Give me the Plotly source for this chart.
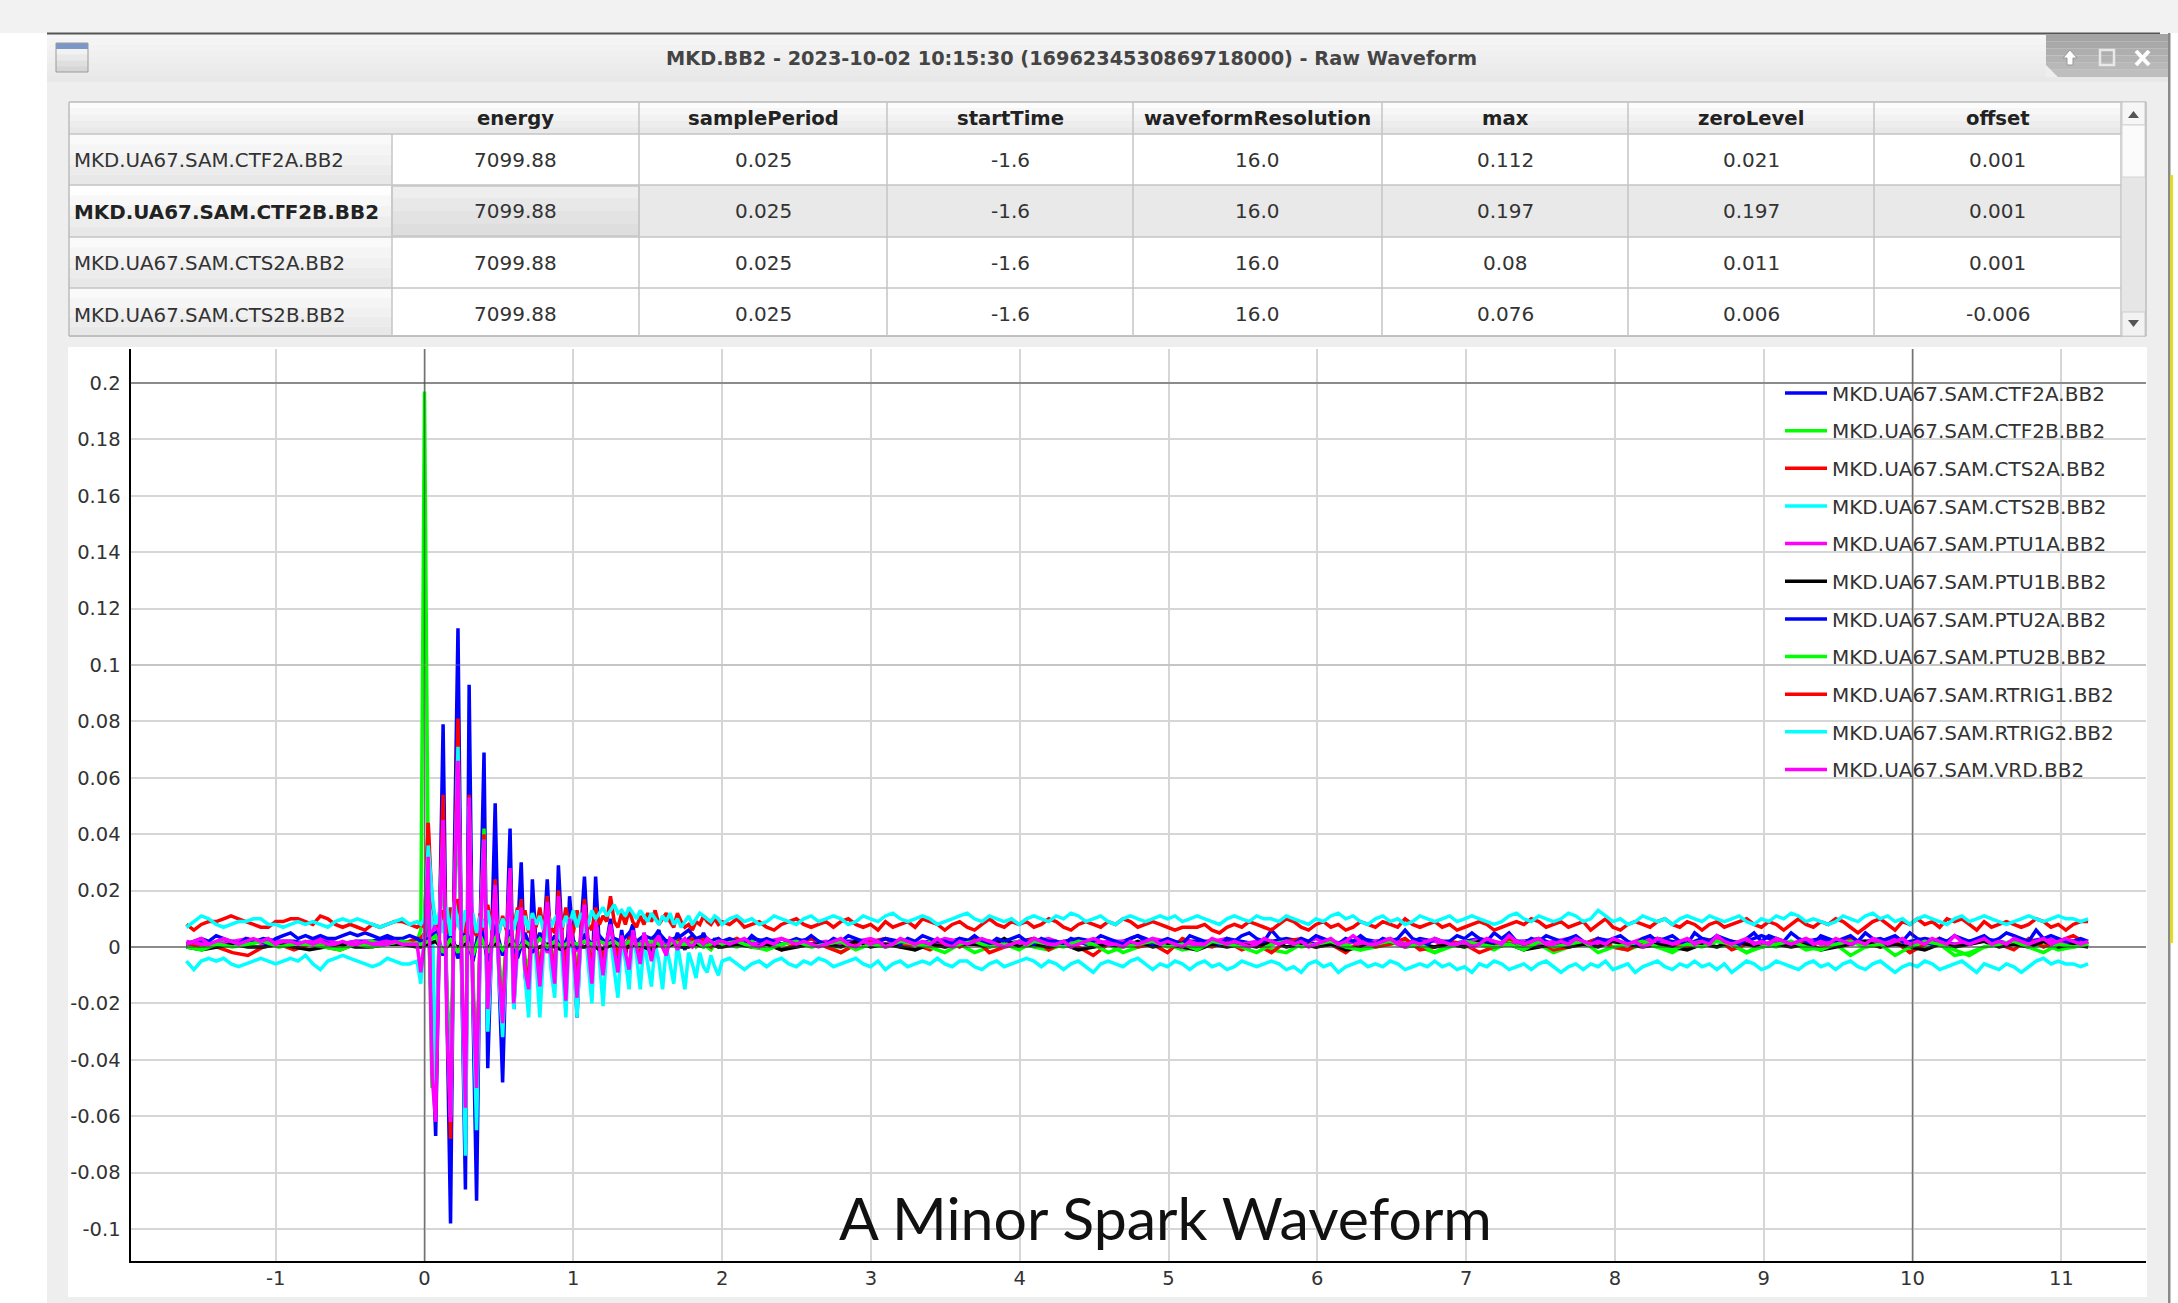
import numpy as np
import plotly.graph_objects as go

W, H = 2178, 1303
TITLE = "MKD.BB2 - 2023-10-02 10:15:30 (1696234530869718000) - Raw Waveform"
CAPTION = "A Minor Spark Waveform"
COLUMNS = ["energy", "samplePeriod", "startTime", "waveformResolution", "max", "zeroLevel", "offset"]
ROW_NAMES = ["MKD.UA67.SAM.CTF2A.BB2", "MKD.UA67.SAM.CTF2B.BB2", "MKD.UA67.SAM.CTS2A.BB2", "MKD.UA67.SAM.CTS2B.BB2"]
ROW_VALUES = [
    ["7099.88", "0.025", "-1.6", "16.0", "0.112", "0.021", "0.001"],
    ["7099.88", "0.025", "-1.6", "16.0", "0.197", "0.197", "0.001"],
    ["7099.88", "0.025", "-1.6", "16.0", "0.08", "0.011", "0.001"],
    ["7099.88", "0.025", "-1.6", "16.0", "0.076", "0.006", "-0.006"],
]
X_TICKS = [-1, 0, 1, 2, 3, 4, 5, 6, 7, 8, 9, 10, 11]
Y_TICKS = [0.2, 0.18, 0.16, 0.14, 0.12, 0.1, 0.08, 0.06, 0.04, 0.02, 0, -0.02, -0.04, -0.06, -0.08, -0.1]
Y_LABELS = ["0.2", "0.18", "0.16", "0.14", "0.12", "0.1", "0.08", "0.06", "0.04", "0.02", "0", "-0.02", "-0.04", "-0.06", "-0.08", "-0.1"]

# Values in thousandths of the y unit; each series: before trigger, burst, after burst
ctf2a_pre = [1, 2, 1, 2, 1, 3, 2, 2, 1, 2, 1, 2, 2, 3, 2, 1]
ctf2a_burst = [1, 2, 14, -30, -67, 5, 79, -20, -98, 30, 113, -10, -86, 93, -20, -90, 10, 69, -43, 0, 51, -10, -48, 0, 42, -22, 5, 30, -10, -19, 24, 0, -12, 2, 24, -2, -14, 29, 3, -13, 18, 2, -25, 5, 25, 0, -12, 25, 0, -8, 2, 10, 0, -5, 6, -3, 4, 8, -2, -4, 5, 0, -3, 4, 6, 0, -2, 3, 1, 5, 2, -1, 3, 4, 1, 2, 5, 2, 0, 3, 1]
ctf2a_post = [2, 1, 3, 2, 1, 2, 3, 1, 2, 2, 1, 3, 2, 1, 2, 1, 3, 2, 2, 1, 2, 3, 1, 2, 3, 2, 1, 2, 4, 2, 1, 2, 2, 1, 3, 2, 1, 2, 3, 2, 1, 2, 1, 3, 2, 2, 1, 3, 2, 1, 2, 3, 1, 2, 2, 3, 1, 2, 1, 3, 2, 1, 2, 3, 2, 1, 3, 2, 1, 2, 4, 2, 1, 2, 3, 1, 2, 2, 3, 1, 2, 3, 2, 1, 2, 3, 2, 1, 2, 3, 2, 2, 1]

ctf2b_pre = [1, 0, 2, 1, 1, 2, 0, 1, 2, 1, 0, 1, 2, 1, 1, 2]
ctf2b_burst = [6, 197, 25, -50, -40, 5, 30, -15, -40, 15, 50, -10, -45, 35, -10, -40, 5, 42, -20, 1, 10, -5, -15, 2, 25, -8, 2, 10, -4, -7, 8, 1, -5, 2, 8, 0, -5, 10, 1, -4, 5, 1, -8, 2, 8, 0, -4, 5, 0, -3, 1, 4, 0, -2, 2, -1, 2, 3, 0, -1, 2, 1, -1, 2, 2, 0, -1, 2, 1, 2, 1, 0, 1, 2, 0, 1, 2, 0, -1, 1, 0]
ctf2b_post = [1, 0, 2, -1, 1, 2, 0, 1, -2, 1, 2, 0, 1, -1, 2, 0, 1, -2, 0, 1, 2, 0, -1, 1, 2, 0, 1, -2, 0, 2, 1, -1, 0, 1, 2, 0, 1, -1, -2, 1, 0, 2, 1, -1, 0, 1, 2, 0, -2, 1, 0, 1, -1, 2, 0, 1, -2, 0, 1, 2, 0, -1, 1, 0, -2, 1, 2, 0, 1, -2, 1, 0, 2, -1, 0, 1, -3, 0, 1, 2, -1, 0, 1, -3, -2, 0, 1, 2, 0, 1, -1, 0, 1]

cts2a_pre = [0, 1, 0, -2, -3, 0, 1, -1, 1, 0, -1, 1, 0, 2, 1, 3]
cts2a_burst = [3, 5, 44, -25, -58, 10, 54, -20, -68, 20, 81, -8, -60, 54, -15, -55, 8, 40, -27, 2, 24, -8, -25, 2, 27, -15, 4, 17, -6, -12, 12, 1, -9, 3, 18, -1, -9, 20, 3, -8, 10, 2, -14, 4, 17, 1, -8, 10, 1, -5, 2, 7, 1, -3, 4, -2, 3, 5, -1, -2, 4, 1, -2, 3, 4, 1, -1, 3, 2, 3, 1, 0, 2, 3, 1, 2, 3, 1, 0, 2, 1]
cts2a_post = [1, 3, 0, 2, -1, 1, 3, 0, -2, 1, 2, 3, 0, 1, -1, 2, 0, 3, -2, 0, 1, 3, -1, 2, 0, -3, 1, 2, 0, 1, -2, 3, 1, 0, 2, -1, 1, -2, 2, 3, 0, 1, -2, 2, 0, 1, 3, -1, 0, 2, 1, -2, 0, 3, 1, 2, -1, 0, 1, 3, 0, -1, 2, 3, 1, 0, 2, 3, -1, 1, 0, 3, 1, 2, -1, 2, 3, 1, 0, 2, -2, 1, 3, 0, 2, 3, 1, -1, 3, 0, 2, 4, 1]

cts2b_pre = [-5, -8, -5, -4, -5, -4, -6, -7, -6, -5, -4, -5, -6, -5, -4, -5, -3, -6, -8, -5, -4, -3, -4, -5, -6, -7, -6, -4, -5, -6, -6, -5]
cts2b_burst = [-13, 5, 36, 19, -50, 10, 40, -20, -60, 10, 71, -5, -74, 50, -15, -65, 5, 38, -30, -2, 20, -10, -32, -3, 22, -22, -2, 12, -10, -25, 8, -5, -25, -2, 12, -8, -18, 14, -5, -25, 8, -3, -25, 2, 10, -6, -20, 10, -4, -21, 0, 4, -8, -18, 3, -5, -15, 5, -3, -15, 2, -6, -14, 1, -5, -15, 0, -6, -13, 1, -7, -15, -2, -6, -11, -2, -7, -9, -3, -7, -10]
cts2b_post = [-5, -4, -6, -8, -6, -5, -7, -5, -4, -6, -7, -5, -6, -4, -5, -7, -6, -5, -4, -6,
              -7, -5, -8, -6, -5, -7, -6, -5, -6, -4, -6, -7, -5, -5, -7, -8, -6, -5, -7, -6,
              -5, -4, -5, -7, -5, -6, -8, -6, -5, -7, -9, -6, -5, -6, -7, -5, -4, -6, -8, -6,
              -7, -5, -6, -8, -6, -5, -7, -6, -8, -7, -5, -6, -7, -6, -5, -6, -8, -7, -9, -6,
              -5, -7, -6, -9, -7, -6, -5, -7, -6, -7, -5, -6, -8, -7, -6, -7, -5, -7, -6, -8,
              -7, -9, -6, -7, -5, -6, -8, -7, -6, -8, -6, -5, -7, -9, -7, -6, -8, -6, -7, -5,
              -8, -7, -6, -9, -7, -6, -5, -7, -8, -6, -7, -5, -7, -6, -8, -6, -9, -7, -5, -6,
              -8, -7, -5, -6, -7, -8, -6, -5, -7, -6, -8, -6, -5, -7, -8, -6, -5, -7, -9, -7,
              -6, -7, -5, -6, -8, -7, -6, -5, -7, -9, -6, -7, -8, -6, -7, -9, -7, -5, -4, -6, -5, -6, -6, -7, -6]

ptu1a_pre = [2, 1, 1, 2, 3, 1, 2, 1, 2, 3, 1, 2, 1, 2, 1, 1]
ptu1a_burst = [1, 2, 8, -3, 6, -4, 7, -5, 8, -4, 6, -3, 5, -3, 4, -2, 4, -2, 3, -1, 3, -1, 2, 0, 3, 0, 2, 1, 2, 1, 2, 1, 2, 1, 2, 1, 2, 1, 1, 2, 1]
ptu1a_post = [1, 2, 1, 2, 3, 1, 1, 2, 1, 2, 3, 1, 2, 1, 1, 3, 2, 1, 2, 1, 1, 2, 3, 1, 2, 1, 2, 2, 1, 3, 2, 1, 1, 2, 3, 1, 2, 1, 2, 1, 3, 1, 2, 1, 2, 3, 1, 2, 2, 1, 1, 3, 2, 1, 2, 1, 2, 3, 1, 1, 2, 1, 3, 2, 1, 2, 1, 3, 1, 2, 1, 2, 1, 3, 1, 2, 2, 1, 2, 3, 1, 2, 1, 1, 2, 3, 1, 2, 1, 3, 2, 1, 2]

ptu1b_pre = [0, -1, 0, 1, 0, 0, 1, 0, -1, 0, 1, 0, 0, 1, 1, 0]
ptu1b_burst = [0, 1, 2, -1, 1, 0, 1, -1, 2, 0, 1, -1, 1, 0, 1, -1, 0, 1, 0, -1, 1, 0, 0, 1, -1, 0, 1, 0, 0, 1, 0, -1, 1, 0, 1, 0, 0, 1, 0, 1, 0]
ptu1b_post = [0, 1, 0, 1, -1, 0, 1, 1, 0, 2, 0, 1, 0, -1, 1, 0, 1, 1, 0, 3, 0, 1, 0, 1, -1, 0, 1, 0, 2, 0, 1, 0, -1, 1, 0, 1, 0, 2, 0, 1, 0, 1, -1, 0, 1, 2, 0, 1, 0, 1, 0, 2, 0, 1, -1, 0, 1, 0, 1, 0, 2, 1, 0, 1, 0, -1, 1, 0, 2, 1, 0, 1, 0, 1, -1, 0, 1, 2, 0, 1, 0, -1, 1, 0, 1, 2, 0, 1, 0, 2, 0, 1, 0]

ptu2a_pre = [1, 2, 3, 2, 4, 3, 2, 1, 3, 2, 2, 1, 3, 4, 5, 3, 4, 3, 4, 3, 3, 4, 5, 4, 5, 4, 3, 4, 3, 3, 4, 3]
ptu2a_burst = [2, 3, 5, -3, 6, -4, 8, -5, 9, -5, 8, -3, 6, -4, 5, -2, 5, -1, 4, -1, 5, 0, 4, 1, 4, 1, 3, 2, 5, 2, 4, 3, 5, 2, 3, 4, 6, 3, 4, 2, 3]
ptu2a_post = [2, 3, 2, 1, 4, 2, 3, 2, 1, 2, 3, 2, 4, 2, 1, 3, 2, 4, 3, 2, 1, 2, 3, 2, 1, 3, 2, 4, 3, 2,
              2, 1, 3, 2, 4, 2, 1, 3, 2, 3, 4, 2, 1, 3, 2, 2, 1, 3, 2, 1, 2, 4, 3, 2, 1, 3, 4, 2, 1, 2,
              3, 2, 1, 4, 3, 2, 2, 1, 3, 2, 4, 5, 3, 2, 6, 3, 2, 1, 3, 2, 4, 3, 2, 1, 3, 2, 4, 2, 1, 3,
              2, 3, 6, 3, 2, 1, 3, 2, 2, 4, 3, 5, 3, 2, 5, 3, 5, 2, 1, 3, 2, 4, 3, 2, 3, 4, 2, 1, 3, 2,
              3, 4, 2, 1, 3, 4, 2, 3, 4, 2, 1, 5, 3, 2, 4, 3, 2, 1, 3, 5, 2, 4, 3, 2, 5, 3, 2, 1, 4, 3,
              2, 3, 4, 2, 5, 3, 2, 3, 4, 2, 5, 3, 2, 1, 3, 2, 4, 3, 2, 3, 4, 2, 3, 5, 4, 3, 2, 6, 3, 4, 3, 2, 2, 3, 2]

ptu2b_pre = [0, -1, 1, 0, 1, 2, 0, 1, 1, 0, -1, 1, 0, 1, 2, 1]
ptu2b_burst = [1, 2, 4, -2, 3, -2, 4, -3, 4, -2, 3, -1, 3, -1, 2, 0, 3, 0, 2, 0, 2, 1, 2, 1, 2, 1, 2, 0, 2, 1, 1, 2, 1, 0, 2, 1, 1, 2, 0, 1, 2]
ptu2b_post = [1, 2, 0, -1, 1, 2, 0, 1, 2, -1, 1, 0, 2, 1, 0, -2, 1, 2, 0, 1, -1, 2, 1, 0, 2, 1, -2, 0, 1, 2, 0, 1, -1, 2, 1, 0, -2, 1, 2, 0, 1, 2, 0, -1, 1, 2, 0, 1, -2, 0, 2, 1, 0, 1, -1, 2, 0, 1, 2, -2, 0, 1, 2, 0, -1, 1, 0, 2, 1, -2, 0, 1, 2, 0, -1, 1, 2, 0, 1, -3, 0, 2, 1, -1, -3, 0, 1, 2, 0, -2, 1, 0, 1]

rtrig1_pre = [8, 6, 8, 9, 9, 10, 11, 10, 9, 8, 7, 7, 9, 9, 10, 10, 9, 8, 11, 10, 8, 7, 8, 7, 6, 8, 7, 8, 9, 9, 8, 7]
rtrig1_burst = [8, 7, 44, 16, 9, 7, 13, 5, 14, 6, 17, 8, 5, 16, 6, 4, 12, 6, 15, 8, 13, 5, 11, 6, 15, 7, 14, 6, 13, 5, 10, 7, 14, 6, 15, 7, 5, 12, 6, 14, 8, 5, 13, 7, 15, 8, 6, 14, 8, 11, 9, 18, 9, 7, 12, 8, 13, 9, 7, 11, 8, 12, 9, 13, 8, 10, 12, 9, 7, 12, 9, 7, 8, 6, 9, 8, 11, 9, 8, 10, 8]
rtrig1_post = [9, 8, 10, 7, 8, 9, 7, 6, 8, 9, 10, 8, 7, 8, 9, 7, 9, 10, 8, 7,
               8, 6, 9, 7, 8, 9, 7, 10, 9, 8, 6, 8, 9, 7, 6, 8, 10, 8, 7, 9,
               8, 9, 7, 8, 10, 9, 7, 6, 8, 9, 8, 7, 9, 8, 10, 9, 7, 8, 9, 8,
               7, 6, 7, 7, 7, 8, 6, 5, 7, 8, 7, 9, 8, 7, 6, 8, 10, 9, 7, 6,
               8, 9, 7, 8, 6, 7, 9, 8, 7, 9, 8, 7, 10, 8, 7, 8, 9, 7, 8, 6,
               7, 8, 9, 8, 6, 7, 8, 9, 8, 10, 9, 7, 8, 9, 7, 8, 9, 6, 8, 10,
               7, 6, 8, 9, 8, 7, 9, 10, 8, 7, 9, 8, 6, 8, 9, 7, 8, 9, 10, 8,
               7, 9, 8, 6, 8, 10, 8, 7, 9, 8, 10, 9, 7, 5, 7, 9, 10, 8, 6, 9,
               8, 10, 8, 9, 7, 10, 9, 10, 8, 6, 9, 7, 8, 9, 8, 7, 8, 10, 9, 7, 8, 6, 8, 9, 9]

rtrig2_pre = [7, 9, 11, 10, 8, 7, 8, 9, 9, 10, 10, 8, 8, 7, 8, 9, 8, 9, 8, 7, 9, 10, 9, 10, 9, 8, 7, 8, 9, 10, 8, 9]
rtrig2_burst = [8, 10, 36, 19, 8, 12, 5, 14, 4, 16, 8, 5, 13, 6, 12, 5, 11, 7, 13, 6, 12, 5, 10, 7, 12, 6, 13, 5, 11, 6, 12, 8, 11, 6, 13, 7, 10, 12, 7, 11, 8, 13, 7, 12, 9, 8, 13, 10, 12, 14, 11, 13, 15, 12, 13, 11, 14, 12, 10, 13, 11, 9, 12, 10, 8, 11, 9, 12, 8, 10, 7, 9, 11, 8, 10, 12, 11, 10, 9, 11, 10]
rtrig2_post = [8, 10, 11, 9, 10, 8, 9, 11, 10, 9, 8, 10, 11, 9, 10, 11, 10, 8, 9, 11,
               10, 9, 11, 12, 10, 9, 10, 11, 10, 8, 9, 10, 11, 12, 10, 9, 11, 10, 9, 10,
               8, 10, 11, 10, 9, 11, 10, 12, 11, 9, 10, 11, 9, 8, 10, 11, 10, 9, 10, 11,
               10, 11, 9, 10, 11, 10, 9, 8, 10, 11, 10, 9, 11, 10, 10, 9, 11, 10, 9, 8,
               10, 9, 11, 12, 10, 11, 9, 8, 10, 11, 9, 10, 8, 9, 11, 10, 9, 10, 11, 9,
               10, 11, 10, 9, 8, 9, 11, 12, 10, 9, 11, 10, 9, 10, 12, 11, 9, 10, 13, 11,
               9, 10, 8, 9, 11, 10, 9, 10, 8, 10, 11, 10, 9, 11, 10, 9, 10, 11, 9, 8,
               10, 9, 11, 10, 12, 11, 9, 10, 9, 8, 9, 11, 10, 9, 11, 12, 10, 11, 9, 10,
               8, 10, 11, 10, 9, 8, 10, 11, 9, 10, 11, 10, 9, 8, 9, 10, 11, 10, 9, 10, 11, 10, 10, 9, 10]

vrd_pre = [1, 2, 3, 1, 2, 3, 2, 1, 2, 3, 2, 3, 1, 2, 2, 1, 2, 1, 2, 1, 1, 2, 1, 1, 2, 1, 1, 1, 2, 1, 1, 1]
vrd_burst = [-9, 2, 32, -45, -62, 5, 45, -25, -62, 15, 66, -5, -57, 53, -15, -50, 5, 38, -22, 0, 22, -8, -27, 0, 28, -20, 2, 14, -8, -15, 10, 0, -14, 2, 16, -2, -13, 18, 2, -19, 10, 0, -18, 3, 15, 0, -13, 9, 0, -10, 2, 8, -1, -9, 4, -2, -8, 6, 0, -6, 5, 1, -5, 2, 4, 0, -3, 3, 2, -1, 2, 3, 1, 0, 2, 2, 1, 3, 2, 1, 2]
vrd_post = [2, 1, 2, 3, 1, 0, 2, 1, 3, 2, 1, 2, 1, 0, 1, 2, 3, 1, 0, 2,
            1, 2, 0, 1, 3, 2, 1, 2, 1, 3, 1, 0, 2, 1, 2, 3, 2, 1, 0, 1,
            2, 1, 3, 2, 1, 1, 2, 0, 1, 2, 3, 2, 1, 1, 0, 2, 1, 2, 3, 1,
            2, 1, 0, 2, 1, 1, 3, 2, 1, 2, 1, 0, 1, 3, 2, 1, 2, 1, 2, 0,
            1, 2, 3, 1, 2, 4, 2, 1, 1, 2, 3, 1, 0, 2, 1, 2, 3, 2, 1, 1,
            2, 0, 1, 3, 2, 1, 4, 2, 1, 2, 3, 1, 1, 2, 1, 3, 2, 1, 2, 1,
            3, 2, 1, 2, 0, 1, 3, 2, 1, 2, 3, 1, 2, 1, 4, 2, 1, 2, 3, 1,
            2, 1, 3, 2, 1, 2, 3, 1, 2, 1, 3, 2, 1, 2, 1, 3, 2, 1, 2, 3,
            1, 2, 1, 3, 2, 1, 4, 2, 1, 2, 3, 1, 2, 1, 3, 2, 1, 2, 3, 1, 2, 3, 2, 1, 2]

SERIES = [
    ("MKD.UA67.SAM.CTF2A.BB2", "#0000ff", ctf2a_pre, ctf2a_burst, ctf2a_post),
    ("MKD.UA67.SAM.CTF2B.BB2", "#00ff00", ctf2b_pre, ctf2b_burst, ctf2b_post),
    ("MKD.UA67.SAM.CTS2A.BB2", "#ff0000", cts2a_pre, cts2a_burst, cts2a_post),
    ("MKD.UA67.SAM.CTS2B.BB2", "#00ffff", cts2b_pre, cts2b_burst, cts2b_post),
    ("MKD.UA67.SAM.PTU1A.BB2", "#ff00ff", ptu1a_pre, ptu1a_burst, ptu1a_post),
    ("MKD.UA67.SAM.PTU1B.BB2", "#000000", ptu1b_pre, ptu1b_burst, ptu1b_post),
    ("MKD.UA67.SAM.PTU2A.BB2", "#0000ff", ptu2a_pre, ptu2a_burst, ptu2a_post),
    ("MKD.UA67.SAM.PTU2B.BB2", "#00ff00", ptu2b_pre, ptu2b_burst, ptu2b_post),
    ("MKD.UA67.SAM.RTRIG1.BB2", "#ff0000", rtrig1_pre, rtrig1_burst, rtrig1_post),
    ("MKD.UA67.SAM.RTRIG2.BB2", "#00ffff", rtrig2_pre, rtrig2_burst, rtrig2_post),
    ("MKD.UA67.SAM.VRD.BB2", "#ff00ff", vrd_pre, vrd_burst, vrd_post),
]

# ---------------- pixel helpers ----------------
def px(x): return x / W
def py(y): return 1 - y / H

shapes, annos = [], []

def rect(x0, y0, x1, y1, fill, line=None, lw=1):
    shapes.append(dict(type="rect", xref="paper", yref="paper", x0=px(x0), x1=px(x1), y0=py(y1), y1=py(y0),
                       fillcolor=fill, line=dict(color=line or "rgba(0,0,0,0)", width=lw if line else 0), layer="below"))

def gradient(x0, y0, x1, y1, c0, c1, n=6):
    a, b = np.array(c0, float), np.array(c1, float)
    for i in range(n):
        c = a + (b - a) * i / max(n - 1, 1)
        rect(x0, y0 + (y1 - y0) * i / n, x1, y0 + (y1 - y0) * (i + 1) / n, "rgb(%d,%d,%d)" % tuple(c))

def hline(x0, x1, y, color, w=1):
    shapes.append(dict(type="line", xref="paper", yref="paper", x0=px(x0), x1=px(x1), y0=py(y), y1=py(y),
                       line=dict(color=color, width=w), layer="below"))

def vline(x, y0, y1, color, w=1):
    shapes.append(dict(type="line", xref="paper", yref="paper", x0=px(x), x1=px(x), y0=py(y0), y1=py(y1),
                       line=dict(color=color, width=w), layer="below"))

def path(points, fill=None, line=None, lw=1, close=True):
    d = "M " + " L ".join("%.5f,%.5f" % (px(a), py(b)) for a, b in points) + (" Z" if close else "")
    shapes.append(dict(type="path", xref="paper", yref="paper", path=d, fillcolor=fill or "rgba(0,0,0,0)",
                       line=dict(color=line or "rgba(0,0,0,0)", width=lw if line else 0), layer="below"))

def text(x, y, s, size=19, color="#333333", bold=False, anchor="center", font="DejaVu Sans"):
    annos.append(dict(xref="paper", yref="paper", x=px(x), y=py(y), text=("<b>%s</b>" % s) if bold else s,
                      showarrow=False, xanchor=anchor, yanchor="middle", font=dict(family=font, size=size, color=color)))

# ---------------- window chrome ----------------
GREY = "#eeeeee"
rect(0, 0, W, 33, "#f2f2f2")
rect(47, 33, 2168, H, GREY)
rect(2168, 33, 2170.5, H, "#8a8a8a")
rect(2170.5, 175, 2173, 943, "#e8e000")
gradient(47, 33, 2168, 82, (246, 246, 246), (232, 232, 232), 8)
hline(47, 2160, 33.5, "#555555", 2)
text(1071, 59, TITLE, size=19.3, color="#444444", bold=True)
# window icon
gradient(56, 43, 88, 72, (252, 252, 252), (214, 214, 214), 5)
rect(56, 43, 88, 49, "#7b96c8")
rect(56, 43, 88, 72, "rgba(0,0,0,0)", "#9a9a9a", 1)
# buttons tab
gradient(2046, 34, 2168, 77, (164, 164, 164), (190, 190, 190), 6)
path([(2046, 34), (2046, 65), (2058, 77), (2046, 77)], fill=GREY)
# up arrow, maximise, close
path([(2070, 50), (2077, 58), (2073, 58), (2073, 65), (2067, 65), (2067, 58), (2063, 58)], fill="#ffffff", line="#999999", lw=1)
rect(2100, 50, 2114, 65, "rgba(0,0,0,0)", "#e8e8e8", 2.5)
path([(2136, 51), (2149, 65)], line="#ffffff", lw=4, close=False)
path([(2149, 51), (2136, 65)], line="#ffffff", lw=4, close=False)

# ---------------- table ----------------
COL_X = [392, 639, 887, 1133, 1382, 1628, 1874, 2121]
ROW_Y = [134, 185, 237, 288, 336]
NAME_Y = [161, 212.5, 264, 315.5]
CELL_Y = [159.7, 211, 262.5, 314]
rect(69, 134, 2122, 336, "#ffffff")
gradient(69, 102, 2122, 134, (252, 252, 252), (232, 232, 232), 5)
rect(392, 185, 2121, 237, "#e9e9e9")
gradient(392, 186, 639, 236, (238, 238, 238), (222, 222, 222), 4)
for r in range(4):
    c0 = (254, 254, 254) if r == 1 else (250, 250, 250)
    gradient(69, ROW_Y[r], 392, ROW_Y[r + 1], c0, (232, 232, 232), 5)
LINE = "#c4c4c4"
for y in ROW_Y:
    hline(69, 2121, y, LINE, 1.5)
hline(69, 2146, 102, "#bbbbbb", 1.5)
hline(69, 2146, 336, "#bbbbbb", 1.5)
vline(69, 102, 336, "#bbbbbb", 1.5)
for i, x in enumerate(COL_X):
    vline(x, 134 if i == 0 else 102, 336, LINE, 1.5)
rect(392, 186, 639, 236, "rgba(0,0,0,0)", "#c8c8c8", 1.5)
# scrollbar
rect(2122, 102, 2145, 336, "#e6e6e6")
rect(2122, 102, 2145, 125, "#f6f6f6", "#cccccc", 1)
rect(2122, 125, 2145, 177, "#fbfbfb", "#d4d4d4", 1)
rect(2122, 312, 2145, 336, "#f2f2f2", "#cccccc", 1)
path([(2128, 118), (2139, 118), (2133.5, 111)], fill="#555555")
path([(2128, 320), (2139, 320), (2133.5, 327)], fill="#555555")
vline(2146, 102, 336, "#bbbbbb", 1.5)
for i, c in enumerate(COLUMNS):
    text((COL_X[i] + COL_X[i + 1]) / 2, 118.5, c, size=19.6, color="#222222", bold=True)
for r, name in enumerate(ROW_NAMES):
    text(72, NAME_Y[r], name, size=19.9 if r == 1 else 19.8, color="#222222" if r == 1 else "#333333", bold=(r == 1), anchor="left")
    for i, v in enumerate(ROW_VALUES[r]):
        text((COL_X[i] + COL_X[i + 1]) / 2, CELL_Y[r], v, size=20, color="#333333")

# ---------------- plot panel ----------------
rect(68, 347, 2147, 1297, "#ffffff")
A_L, A_R, A_T, A_B = 130.5, 2146, 349, 1261
X0_PX, X_SCALE = 424.5, 148.8
Y0_PX, Y_SCALE = 947, 2820
text(1165, 1217, CAPTION, size=59, color="#111111", font="Lato")

fig = go.Figure()
for name, color, pre, burst, post in SERIES:
    t = np.concatenate([np.linspace(-1.6, -0.05, len(pre)),
                        np.linspace(-0.025, 1.975, len(burst)),
                        np.linspace(2.0, 11.18, len(post))])
    v = np.array(list(pre) + list(burst) + list(post), float) / 1000.0
    fig.add_trace(go.Scatter(x=t, y=v, mode="lines", name=name, legendgroup=name,
                             line=dict(color=color, width=3.5, simplify=False)))

# darker reference lines, drawn over the data as in the reference
MAJOR_X = [0, 10]
MAJOR_Y = [0, 0.2]
MID_Y = [0.1]
for xv in MAJOR_X:
    shapes.append(dict(type="line", xref="x", yref="y domain", x0=xv, x1=xv, y0=0, y1=1,
                       line=dict(color="rgba(60,60,60,0.65)", width=1.5), layer="above"))
for yv in MAJOR_Y:
    shapes.append(dict(type="line", xref="x domain", yref="y", x0=0, x1=1, y0=yv, y1=yv,
                       line=dict(color="rgba(60,60,60,0.65)", width=1.5), layer="above"))
for yv in MID_Y:
    shapes.append(dict(type="line", xref="x domain", yref="y", x0=0, x1=1, y0=yv, y1=yv,
                       line=dict(color="rgba(150,150,150,0.35)", width=1.5), layer="above"))

tick_font = dict(family="DejaVu Sans", size=19.5, color="#333333")
fig.update_layout(
    width=W, height=H, margin=dict(l=0, r=0, t=0, b=0, pad=0), autosize=False,
    paper_bgcolor="#ffffff", plot_bgcolor="rgba(0,0,0,0)",
    shapes=shapes, annotations=annos,
    legend=dict(x=px(1780), y=py(373.5), xanchor="left", yanchor="top", bgcolor="rgba(0,0,0,0)",
                borderwidth=0, tracegroupgap=8.65, traceorder="grouped", itemwidth=42,
                font=dict(family="DejaVu Sans", size=20, color="#333333")),
    xaxis=dict(domain=[px(A_L), px(A_R)], range=[(A_L - X0_PX) / X_SCALE, (A_R - X0_PX) / X_SCALE],
               tickmode="array", tickvals=X_TICKS, ticktext=[str(v) for v in X_TICKS],
               showgrid=True, gridcolor="#d6d6d6", gridwidth=1.5, zeroline=False, ticks="",
               showline=True, linecolor="#000000", linewidth=2, tickfont=tick_font, automargin=False,
               ticklabelstandoff=-1),
    yaxis=dict(domain=[py(A_B), py(A_T)], range=[(Y0_PX - A_B) / Y_SCALE, (Y0_PX - A_T) / Y_SCALE],
               tickmode="array", tickvals=Y_TICKS, ticktext=Y_LABELS,
               showgrid=True, gridcolor="#d6d6d6", gridwidth=1.5, zeroline=False, ticks="",
               showline=True, linecolor="#000000", linewidth=2, tickfont=tick_font, automargin=False,
               ticklabelstandoff=4),
)
fig.write_html("out.html", config={"displayModeBar": False},
               post_script="document.body.style.margin='0';document.documentElement.style.overflow='hidden';")
